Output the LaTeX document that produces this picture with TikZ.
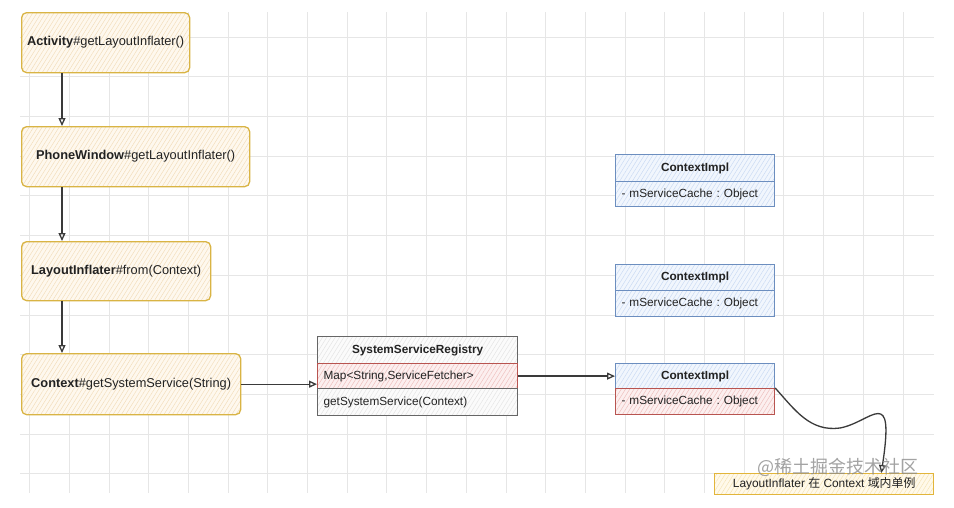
\documentclass[tikz,border=0pt]{standalone}
\usepackage{fontspec}
\setmainfont{Liberation Sans}
\newfontfamily\cjk{Noto Sans CJK SC}
\usetikzlibrary{arrows.meta,patterns.meta,calc}
\frenchspacing
\definecolor{gridc}{HTML}{E6E6E6}
\definecolor{txt}{HTML}{222222}
\definecolor{oborder}{HTML}{D9B444}
\definecolor{ofill}{HTML}{FEF8EE}
\definecolor{ohatch}{HTML}{F2DCB8}
\definecolor{bborder}{HTML}{6C8EBF}
\definecolor{bfill}{HTML}{F1F6FD}
\definecolor{bhatch}{HTML}{C8D9F3}
\definecolor{rborder}{HTML}{B85450}
\definecolor{rfill}{HTML}{FCEFEF}
\definecolor{rhatch}{HTML}{EDBDBB}
\definecolor{gborder}{HTML}{666666}
\definecolor{gfill}{HTML}{FBFBFB}
\definecolor{ghatch}{HTML}{E3E3E3}
\definecolor{nborder}{HTML}{E2B53A}
\definecolor{nfill}{HTML}{FFF9EA}
\definecolor{nhatch}{HTML}{F5E3B3}
\definecolor{arrowc}{HTML}{3A3A3A}
\begin{document}
\frenchspacing
\begin{tikzpicture}[x=1pt,y=-1pt,
  hatch/.style={preaction={fill=#1fill}, preaction={pattern={Lines[angle=58,distance=3.6pt,line width=0.45pt]},pattern color=#1hatch}, draw=#1border},
  obox/.style={hatch=o, line width=1.3pt, rounded corners=5pt,
    font=\fontsize{12.8}{15}\selectfont, text=txt, anchor=north west, inner sep=0pt},
  umlhead/.style={hatch=#1, line width=1.2pt,
    font=\bfseries\fontsize{11.8}{14}\selectfont, text=txt, anchor=north west, inner sep=0pt},
  umlrow/.style={hatch=#1, line width=1.2pt,
    font=\fontsize{11.8}{14}\selectfont, text=txt, anchor=north west, inner ysep=0pt, inner xsep=6pt, align=left},
  arr/.style={draw=arrowc, line width=1.3pt, -{Triangle[open,length=8pt,width=7pt]}},
  gridline/.style={draw=gridc, line width=0.7pt}
]
\useasboundingbox (0,0) rectangle (954,507);
\fill[white] (0,0) rectangle (954,507);
% grid
\begin{scope}
\clip (20,12) rectangle (934,493);
\foreach \k in {0,...,22} \draw[gridline] ({29.5+39.7*\k},12) -- ({29.5+39.7*\k},493);
\foreach \k in {0,...,11} \draw[gridline] (20,{37+39.7*\k}) -- (934,{37+39.7*\k});
\end{scope}

% left chain
\node[obox, minimum width=168, minimum height=60] (act) at (21,12) {\textbf{Activity}\#getLayoutInflater()};
\node[obox, minimum width=228, minimum height=60] (pw) at (21,126) {\textbf{PhoneWindow}\#getLayoutInflater()};
\node[obox, minimum width=189, minimum height=59] (lif) at (21,241) {\textbf{LayoutInflater}\#from(Context)};
\node[obox, minimum width=219, minimum height=61] (ctx) at (21,353) {\textbf{Context}\#getSystemService(String)};

% SystemServiceRegistry
\node[umlhead=g, minimum width=200, minimum height=27] (ssrh) at (317,336) {SystemServiceRegistry};
\node[umlrow=r, text width=188, minimum height=25] (ssrm) at (317,363) {Map<String,ServiceFetcher>};
\node[umlrow=g, text width=188, minimum height=27] (ssrg) at (317,388) {getSystemService(Context)};

% ContextImpl boxes
\node[umlhead=b, minimum width=159, minimum height=27] (ci1h) at (615,154) {ContextImpl};
\node[umlrow=b, text width=147, minimum height=25] (ci1r) at (615,181) {- mServiceCache : Object};
\node[umlhead=b, minimum width=159, minimum height=26] (ci2h) at (615,264) {ContextImpl};
\node[umlrow=b, text width=147, minimum height=26] (ci2r) at (615,290) {- mServiceCache : Object};
\node[umlhead=b, minimum width=159, minimum height=25] (ci3h) at (615,363) {ContextImpl};
\node[umlrow=r, text width=147, minimum height=26] (ci3r) at (615,388) {- mServiceCache : Object};

% note
\node[hatch=n, line width=1.3pt, anchor=north west, inner sep=0pt,
  minimum width=219, minimum height=21, font=\fontsize{11.9}{14}\selectfont, text=txt] (note) at (714,473)
  {LayoutInflater {\cjk 在} Context {\cjk 域内单例}};

% connectors
\coordinate (col) at (62,0);
\draw[arr] (act.south -| col) -- (pw.north -| col);
\draw[arr] (pw.south -| col) -- (lif.north -| col);
\draw[arr] (lif.south -| col) -- (ctx.north -| col);
\draw[arr] (ctx.east) -- (ctx.east -| ssrm.west);
\draw[arr] (ssrm.east) -- (ssrm.east -| ci3h.west);
\draw[arr] (ci3r.north east) .. controls (795,410) and (810,432) .. (840,428)
  .. controls (872,422) and (895,383) .. ($(note.north east)+(-53,0)$);

% watermark
\node[text=black!45, opacity=0.8, font=\cjk\fontsize{18}{18}\selectfont] (wm) at (838,467) {@稀土掘金技术社区};
\end{tikzpicture}
\end{document}
